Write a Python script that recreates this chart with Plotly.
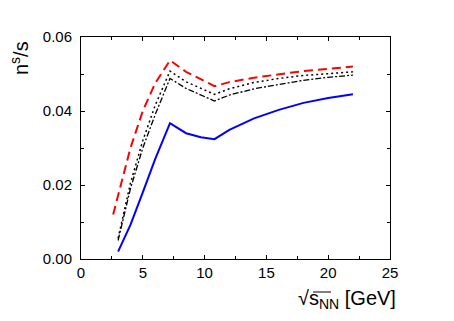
import plotly.graph_objects as go

# ---- data ----
x_red = [2.6, 3.0, 3.5, 4.0, 5.0, 6.0, 7.2, 8.5, 10.8, 12.0, 14.0, 16.0, 18.0, 20.0, 22.0]
y_red = [0.012, 0.017, 0.0235, 0.030, 0.040, 0.0475, 0.0537, 0.0506, 0.0467, 0.0478, 0.0490, 0.0500, 0.0508, 0.0514, 0.0520]

x_blk = [3.0, 3.5, 4.0, 5.0, 6.0, 7.2, 8.5, 10.8, 12.0, 14.0, 16.0, 18.0, 20.0, 22.0]
y_dot = [0.0056, 0.013, 0.0205, 0.032, 0.0415, 0.0508, 0.0479, 0.0445, 0.0460, 0.0477, 0.0488, 0.0496, 0.0502, 0.0506]
y_dashdot = [0.0050, 0.012, 0.0190, 0.030, 0.0390, 0.0488, 0.0461, 0.0427, 0.0443, 0.0460, 0.0472, 0.0483, 0.0491, 0.0497]

x_blue = [3.0, 4.0, 5.0, 6.0, 7.2, 8.5, 9.7, 10.8, 12.0, 14.0, 16.0, 18.0, 20.0, 22.0]
y_blue = [0.002, 0.0092, 0.018, 0.027, 0.0367, 0.0340, 0.0329, 0.0324, 0.0349, 0.0380, 0.0403, 0.0422, 0.0435, 0.0445]

x_ticks = [0, 5, 10, 15, 20, 25]
y_ticks = [0.00, 0.02, 0.04, 0.06]

FONT = "Liberation Sans, Arial, sans-serif"

fig = go.Figure()
fig.add_trace(go.Scatter(x=x_red, y=y_red, mode="lines",
                         line=dict(color="#ff0000", width=2, dash="9px,5px")))
fig.add_trace(go.Scatter(x=x_blk, y=y_dot, mode="lines",
                         line=dict(color="black", width=1.5, dash="2px,3px")))
fig.add_trace(go.Scatter(x=x_blk, y=y_dashdot, mode="lines",
                         line=dict(color="black", width=1.3, dash="6px,2px,2px,2px")))
fig.add_trace(go.Scatter(x=x_blue, y=y_blue, mode="lines",
                         line=dict(color="#0000ff", width=2)))

axis_common = dict(showline=True, linecolor="black", linewidth=1, mirror="ticks",
                   ticks="inside", ticklen=4, tickcolor="black", tickwidth=1,
                   showgrid=False, zeroline=False, automargin=False,
                   tickfont=dict(family=FONT, size=15, color="black"))

fig.update_xaxes(range=[0, 25], tickvals=x_ticks, ticktext=[str(v) for v in x_ticks],
                 minor=dict(ticks="inside", ticklen=3, dtick=2.5, tick0=0, tickcolor="black"),
                 ticklabelstandoff=0, **axis_common)
fig.update_yaxes(range=[0, 0.06], tickvals=y_ticks, ticktext=[f"{v:.2f}" for v in y_ticks],
                 minor=dict(ticks="inside", ticklen=3, dtick=0.01, tick0=0, tickcolor="black"),
                 ticklabelstandoff=5, **axis_common)

# the page has an 8px body margin, so figure coords = page coords - 8
L, R, T, B = 73, 72, 29, 70
W, H = 454, 321
pw, ph = W - L - R, H - T - B

def px2paper(px, py):
    return (px - L) / pw, (H - B - py) / ph

ytx, yty = px2paper(11, 50)
xtx, xty = px2paper(390, 291)
fig.add_annotation(text="n<sup>s</sup>/s", xref="paper", yref="paper", x=ytx, y=yty,
                   textangle=-90, showarrow=False, xanchor="center", yanchor="middle",
                   font=dict(family=FONT, size=20, color="black"))
fig.add_annotation(text="√s<sub>NN</sub> [GeV]", xref="paper", yref="paper", x=xtx, y=xty,
                   showarrow=False, xanchor="right", yanchor="middle",
                   font=dict(family=FONT, size=20, color="black"))
# overline of the square root
ox0, oy = px2paper(305, 284)
ox1, _ = px2paper(323, 284)
fig.add_shape(type="line", xref="paper", yref="paper", x0=ox0, x1=ox1, y0=oy, y1=oy,
              line=dict(color="black", width=1))

fig.update_layout(width=W, height=H, margin=dict(l=L, r=R, t=T, b=B, autoexpand=False),
                  paper_bgcolor="white", plot_bgcolor="white", showlegend=False)

fig.write_html("out.html")
